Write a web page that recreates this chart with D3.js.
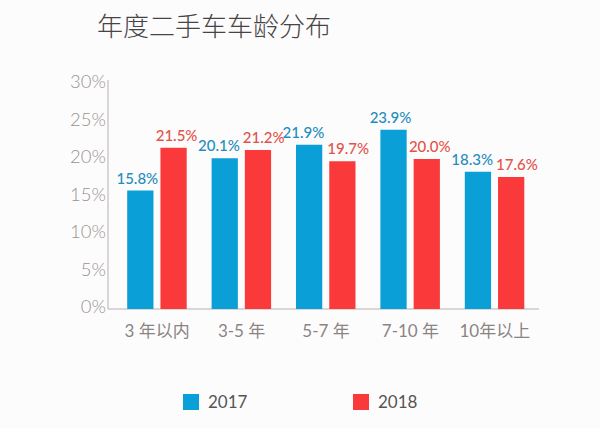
<!DOCTYPE html>
<html><head><meta charset="utf-8">
<script src="https://cdn.jsdelivr.net/npm/d3@7"></script>
<style>
html,body{margin:0;padding:0;background:#fdfcfc;}
svg{display:block;font-family:Lato,"Noto Sans CJK SC",sans-serif;}
</style></head>
<body><svg id="c" width="600" height="428"></svg>
<script>
const title = "年度二手车车龄分布";
const categories = ["3 年以内", "3-5 年", "5-7 年", "7-10 年", "10年以上"];
const seriesNames = ["2017", "2018"];
const values2017 = [15.8, 20.1, 21.9, 23.9, 18.3];
const values2018 = [21.5, 21.2, 19.7, 20.0, 17.6];
const yTicks = [0, 5, 10, 15, 20, 25, 30];
const colors = ["#0a9fd6", "#fa3a3a"];
const labelColors = ["#1f8dbf", "#e2524a"];

const svg = d3.select("#c");
const series = [values2017, values2018];

const x = d3.scaleBand().domain(categories).range([115, 537]).padding(0);
const y = d3.scaleLinear().domain([0, 30]).range([309, 84]);
const sub = d3.scaleBand().domain(seriesNames).range([-30, 29.5]).paddingInner(0.21);

svg.append("text").attr("x", 97).attr("y", 36).attr("font-size", 26)
  .attr("fill", "#474444").attr("font-family", "'Noto Sans CJK SC',sans-serif").attr("font-weight", 300)
  .text(title);

// y axis
const yAxis = svg.append("g").attr("transform", "translate(108,0)")
  .call(d3.axisLeft(y).tickValues(yTicks).tickSize(0).tickPadding(2).tickFormat(d => d + "%"));
yAxis.select(".domain").attr("stroke", "#b5b0ae").attr("d", `M0,${y(30) - 4}V${y(0)}`);
yAxis.selectAll("text").attr("font-size", 18.5).attr("fill", "#9a9391").attr("font-family", "Lato,sans-serif").attr("font-weight", 300).attr("dy", "0.2em");

// x axis
const xAxis = svg.append("g").attr("transform", `translate(0,${y(0)})`)
  .call(d3.axisBottom(x).tickSize(0).tickPadding(16));
xAxis.select(".domain").attr("stroke", "#b5b0ae").attr("d", `M108,0H539`);
xAxis.selectAll("text").attr("font-size", 17).attr("fill", "#8a8483").attr("font-family", "Lato,'Noto Sans CJK SC',sans-serif");

// bars and value labels
const labelSel = [];
series.forEach((vals, si) => {
  const g = svg.append("g");
  const cx = c => x(c) + x.bandwidth() / 2 + sub(seriesNames[si]);
  g.selectAll("rect").data(vals).join("rect")
    .attr("x", (d, i) => cx(categories[i]))
    .attr("width", sub.bandwidth())
    .attr("y", d => y(d))
    .attr("height", d => y(0) - y(d))
    .attr("fill", colors[si]);
  labelSel[si] = g.selectAll("text").data(vals).join("text")
    .attr("x", (d, i) => cx(categories[i]) + sub.bandwidth() / 2 + (si === 0 ? -3 : 3))
    .attr("y", d => y(d) - 7)
    .attr("text-anchor", "middle")
    .attr("font-size", 15).attr("font-weight", 500)
    .attr("fill", labelColors[si])
    .text(d => d.toFixed(1) + "%");
});
// push apart overlapping label pairs
const bNodes = labelSel[0].nodes(), rNodes = labelSel[1].nodes();
categories.forEach((c, i) => {
  const b = bNodes[i], r = rNodes[i];
  const bw = b.getComputedTextLength(), rw = r.getComputedTextLength();
  const bx = +b.getAttribute("x"), rx = +r.getAttribute("x");
  const overlap = (bx + bw / 2 + 3) - (rx - rw / 2);
  const bb = b.getBBox(), rb = r.getBBox();
  const vOverlap = !(bb.y + bb.height < rb.y || rb.y + rb.height < bb.y);
  if (overlap > 0 && vOverlap) {
    b.setAttribute("x", bx - overlap / 2);
    r.setAttribute("x", rx + overlap / 2);
  }
});

// legend
const legX = [183, 353];
seriesNames.forEach((n, i) => {
  svg.append("rect").attr("x", legX[i]).attr("y", 394).attr("width", 16).attr("height", 16).attr("fill", colors[i]);
  svg.append("text").attr("x", legX[i] + 25).attr("y", 408).attr("font-size", 17)
    .attr("fill", "#555").attr("font-family", "Lato,sans-serif").text(n);
});
</script></body></html>
